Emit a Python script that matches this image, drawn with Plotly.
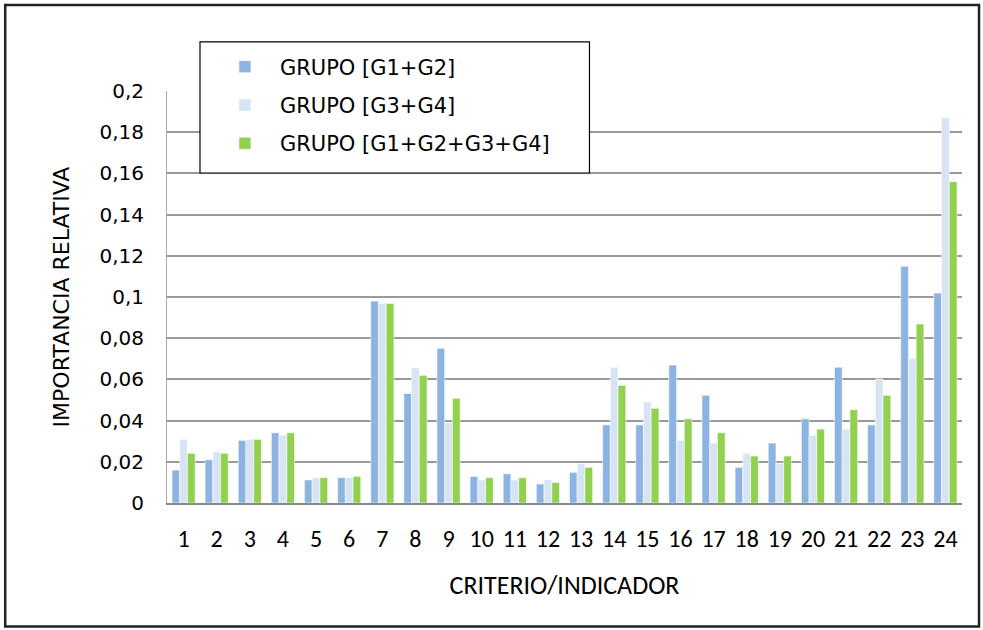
import plotly.graph_objects as go

categories = [str(i) for i in range(1, 25)]
g12 = [0.016, 0.021, 0.0304, 0.0341, 0.0112, 0.0123, 0.098, 0.0532, 0.0751, 0.0129, 0.0142, 0.0092,
       0.0149, 0.0379, 0.0379, 0.067, 0.0523, 0.0173, 0.0291, 0.0409, 0.0659, 0.0379, 0.1149, 0.1019]
g34 = [0.0309, 0.0248, 0.0309, 0.0329, 0.0123, 0.0123, 0.0969, 0.0657, 0.039, 0.0112, 0.0112, 0.0112,
       0.0191, 0.0659, 0.049, 0.0304, 0.0292, 0.0241, 0.0193, 0.0329, 0.0359, 0.0602, 0.0702, 0.187]
g1234 = [0.0241, 0.0241, 0.0309, 0.0341, 0.0123, 0.0129, 0.0969, 0.062, 0.0508, 0.0123, 0.0123, 0.0099,
         0.0173, 0.0571, 0.046, 0.0409, 0.0341, 0.0228, 0.0228, 0.0359, 0.0453, 0.0523, 0.0869, 0.156]
series_names = ["GRUPO [G1+G2]", "GRUPO [G3+G4]", "GRUPO [G1+G2+G3+G4]"]
series_colors = ["#8DB3E2", "#D7E4F4", "#92D050"]
ytick_vals = [0, 0.02, 0.04, 0.06, 0.08, 0.1, 0.12, 0.14, 0.16, 0.18, 0.2]
ytick_text = ["0", "0,02", "0,04", "0,06", "0,08", "0,1", "0,12", "0,14", "0,16", "0,18", "0,2"]

VERDANA = "Verdana, DejaVu Sans, sans-serif"
CALIBRI = "Carlito, Calibri, Lato, sans-serif"

fig = go.Figure()
for name, vals, col in zip(series_names, [g12, g34, g1234], series_colors):
    fig.add_trace(go.Bar(x=categories, y=vals, name=name, legendgroup=name,
                         marker=dict(color=col, line=dict(color="rgba(255,255,255,0.7)", width=0.8))))

fig.update_layout(
    width=983, height=630,
    margin=dict(l=167, r=21, t=91, b=127),
    paper_bgcolor="white", plot_bgcolor="white",
    barmode="group", bargap=0.3, bargroupgap=0,
    font=dict(family=VERDANA, color="#000000"),
    legend=dict(x=0.054, y=1.108, xanchor="left", yanchor="top",
                borderwidth=0, bgcolor="rgba(0,0,0,0)",
                font=dict(family=VERDANA, size=21),
                traceorder="grouped", tracegroupgap=8, itemwidth=60),
    xaxis=dict(type="category", showgrid=False, showline=True, linecolor="#888888", linewidth=1.5,
               ticks="", tickfont=dict(family=CALIBRI, size=24), ticklabelstandoff=13,
               title=dict(text="CRITERIO/INDICADOR", font=dict(family=CALIBRI, size=26), standoff=24)),
    yaxis=dict(range=[0, 0.2], tickvals=ytick_vals, ticktext=ytick_text,
               showgrid=True, gridcolor="#999999", gridwidth=1.5,
               showline=True, linecolor="#aaaaaa", linewidth=1, ticks="",
               tickfont=dict(family=VERDANA, size=20), ticklabelstandoff=18,
               title=dict(text="IMPORTANCIA RELATIVA", font=dict(family=VERDANA, size=22), standoff=23),
               zeroline=False),
    shapes=[
        dict(type="rect", xref="paper", yref="paper", x0=-0.2035, x1=1.0214, y0=-0.3, y1=1.209,
             line=dict(color="#222222", width=2.5)),
        dict(type="rect", xref="paper", yref="paper", layer="above",
             x0=0.0415, x1=0.5314, y0=0.801, y1=1.119,
             fillcolor="white", line=dict(color="#000000", width=1.2)),
    ],
)

fig.write_html("out.html", config={"displayModeBar": False},
               post_script="document.body.style.margin='0';")
